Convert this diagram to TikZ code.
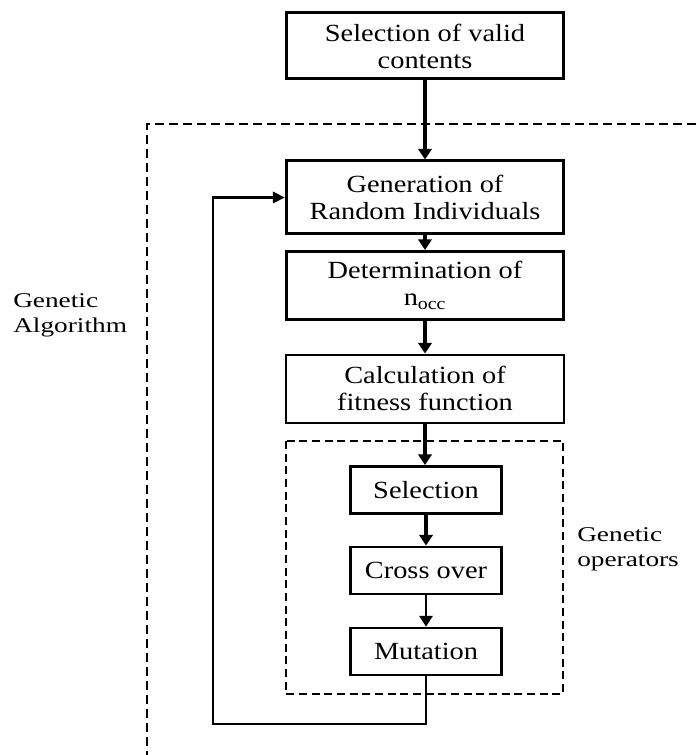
\documentclass[tikz,border=0pt]{standalone}
\usepackage{fontspec}
\setmainfont{Liberation Serif}[FakeStretch=1.15]
\newfontfamily\sidefont{Liberation Serif}[FakeStretch=1.3]
\usetikzlibrary{arrows.meta}

\tikzset{
  box/.style={draw, line width=2.25pt, align=center, inner sep=0pt,
    font=\fontsize{18.5}{20.25}\selectfont},
  bigbox/.style={box, minimum width=208pt, minimum height=51pt},
  opbox/.style={box, line width=1.9pt, minimum width=113pt, minimum height=35.5pt},
  flow/.style={line width=2.4pt, -{Triangle[length=8pt,width=10pt]}},
  region/.style={line width=2pt, dash pattern=on 7pt off 3.5pt},
  sidelabel/.style={align=left, inner sep=0pt,
    font=\sidefont\fontsize{15.75}{19}\selectfont}
}

\begin{document}
\begin{tikzpicture}[x=0.75pt, y=-0.75pt]
    \useasboundingbox (0,0) rectangle (696,755);

    % dashed regions
    \draw[region] (696,124) -- (147,124) -- (147,755);
    \draw[region, line width=1.7pt, dash pattern=on 6pt off 3.5pt] (286,441) rectangle (563,694);

    % boxes
    \node[bigbox, minimum height=49.5pt] (valid) at (425,46) {Selection of valid\\contents};
    \node[bigbox, minimum height=54.75pt] (gen) at (425,197.5) {Generation of\\Random Individuals};
    \node[bigbox] (det) at (425,285.5) {Determination of\\n\textsubscript{occ}};
    \node[bigbox, line width=1.5pt] (calc) at (425,388.5) {Calculation of\\fitness function};
    \node[opbox] (sel) at (426,490) {Selection};
    \node[opbox] (cross) at (426,570.5) {Cross over};
    \node[opbox] (mut) at (426,651.5) {Mutation};

    % labels
    \node[sidelabel, anchor=west] (galabel) at (13,315) {Genetic\\Algorithm};
    \node[sidelabel, anchor=west] (oplabel) at (577,549) {Genetic\\operators};

    % flow
    \draw[flow] (valid) -- (gen);
    \draw[flow] (gen) -- (det);
    \draw[flow] (det) -- (calc);
    \draw[flow] (calc.south) -- (sel.north -| calc.south);
    \draw[flow] (sel) -- (cross);
    \draw[flow, line width=1.2pt] (cross) -- (mut);

    % loop back
    \coordinate (loopturn) at (213,724);
    \draw[line width=1.6pt, -{Triangle[length=9pt,width=8.5pt]}] (mut.south) |- (loopturn) |- (gen.west);
\end{tikzpicture}
\end{document}
